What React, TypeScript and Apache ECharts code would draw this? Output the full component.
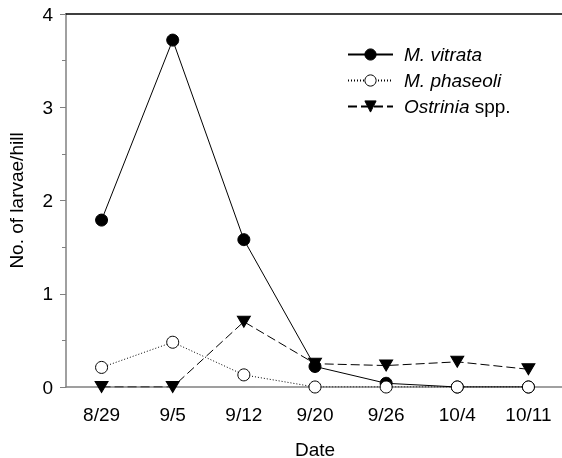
import React, { useEffect, useRef } from "react";
import * as echarts from "echarts";

const dates = ["8/29", "9/5", "9/12", "9/20", "9/26", "10/4", "10/11"];
const vitrata = [1.79, 3.72, 1.58, 0.22, 0.04, 0, 0];
const phaseoli = [0.21, 0.48, 0.13, 0, 0, 0, 0];
const ostrinia = [0, 0, 0.7, 0.25, 0.23, 0.27, 0.19];

const FONT = "'Liberation Sans', Arial, sans-serif";
const GRAY = "#808080";

export default function App() {
  const ref = useRef<HTMLDivElement>(null);
  useEffect(() => {
    if (!ref.current) return;
    const chart = echarts.init(ref.current, null, { renderer: "svg" });
    chart.setOption({
      animation: false,
      textStyle: { fontFamily: FONT },
      grid: { left: 66, right: -2, top: 14, bottom: 71, outerBoundsMode: "none", containLabel: false },
      legend: {
        left: 342,
        top: 40,
        orient: "vertical",
        itemWidth: 45,
        itemHeight: 14,
        itemGap: 7,
        itemStyle: { borderWidth: 1 },
        textStyle: {
          fontFamily: FONT,
          fontSize: 19,
          color: "#000",
          padding: [0, 0, 0, 6],
          rich: {
            i: { fontFamily: FONT, fontSize: 19, fontStyle: "italic", color: "#000" },
            n: { fontFamily: FONT, fontSize: 19, color: "#000" },
          },
        },
        formatter: (name: string) =>
          name === "Ostrinia spp." ? "{i|Ostrinia} {n|spp.}" : "{i|" + name + "}",
        data: ["M. vitrata", "M. phaseoli", "Ostrinia spp."],
      },
      xAxis: [
        {
          type: "category",
          data: dates,
          boundaryGap: true,
          name: "Date",
          nameLocation: "middle",
          nameGap: 54,
          nameTextStyle: { fontFamily: FONT, fontSize: 19, lineHeight: 16, color: "#000" },
          axisLine: { lineStyle: { color: GRAY, width: 1.5 } },
          axisTick: { alignWithLabel: true, length: 6, lineStyle: { color: GRAY, width: 1 } },
          axisLabel: { fontFamily: FONT, fontSize: 19, color: "#000", margin: 18 },
          splitLine: { show: false },
        },
        {
          type: "category",
          data: dates,
          position: "top",
          axisLine: { lineStyle: { color: "#000", width: 1.5 } },
          axisTick: { show: false },
          axisLabel: { show: false },
          splitLine: { show: false },
        },
      ],
      yAxis: {
        type: "value",
        min: 0,
        max: 4,
        interval: 1,
        name: "No. of larvae/hill",
        nameLocation: "middle",
        nameGap: 40,
        nameTextStyle: { fontFamily: FONT, fontSize: 19, color: "#000" },
        axisLine: { show: true, lineStyle: { color: GRAY, width: 1.5 } },
        axisTick: { show: true, length: 6, lineStyle: { color: GRAY, width: 1 } },
        minorTick: { show: true, splitNumber: 2, length: 4, lineStyle: { color: GRAY, width: 1 } },
        axisLabel: { fontFamily: FONT, fontSize: 19, color: "#000", margin: 13 },
        splitLine: { show: false },
      },
      series: [
        {
          name: "M. vitrata",
          type: "line",
          data: vitrata,
          symbol: "circle",
          symbolSize: 12,
          lineStyle: { color: "#000", width: 1, type: "solid" },
          itemStyle: { color: "#000", borderColor: "#000", borderWidth: 1 },
          z: 2,
        },
        {
          name: "M. phaseoli",
          type: "line",
          data: phaseoli,
          symbol: "circle",
          symbolSize: 12,
          lineStyle: { color: "#000", width: 1, type: [1, 2] },
          itemStyle: { color: "#fff", borderColor: "#000", borderWidth: 1 },
          z: 3,
        },
        {
          name: "Ostrinia spp.",
          type: "line",
          data: ostrinia,
          symbol: "triangle",
          symbolRotate: 180,
          symbolSize: [13, 11],
          lineStyle: { color: "#000", width: 1, type: [9, 4] },
          itemStyle: { color: "#000", borderColor: "#000", borderWidth: 1 },
          z: 4,
        },
      ],
    });
    return () => chart.dispose();
  }, []);
  return (
    <div
      ref={ref}
      style={{ position: "fixed", left: 0, top: 0, width: 562, height: 458 }}
    />
  );
}
